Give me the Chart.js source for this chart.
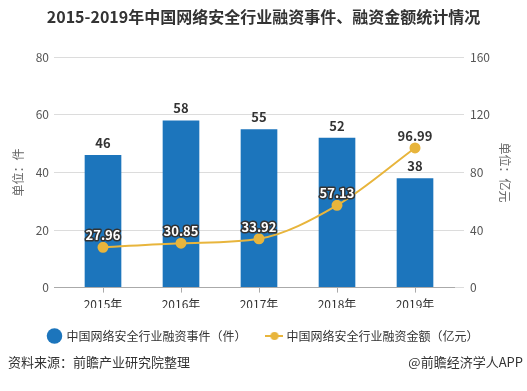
<!DOCTYPE html>
<html>
<head>
<meta charset="utf-8">
<script src="https://cdn.jsdelivr.net/npm/chart.js@4.4.0/dist/chart.umd.min.js"></script>
<style>
  html, body { margin: 0; padding: 0; background: #fff; }
  #wrap { width: 527px; height: 391px; }
</style>
</head>
<body>
<div id="wrap"><canvas id="chart" width="527" height="391"></canvas></div>
<script>
const years = ['2015年', '2016年', '2017年', '2018年', '2019年'];
const dealCounts = [46, 58, 55, 52, 38];
const dealAmounts = [27.96, 30.85, 33.92, 57.13, 96.99];
const leftTicks = [0, 20, 40, 60, 80];
const rightTicks = [0, 40, 80, 120, 160];

const FONT = "'Noto Sans CJK SC', 'Noto Sans', sans-serif";
const BLUE = '#1c75bc';
const GOLD = '#e8b53c';

// legend icon for the line series: short line with a dot
const lineIcon = document.createElement('canvas');
lineIcon.width = 18;
lineIcon.height = 10;
{
    const g = lineIcon.getContext('2d');
    g.strokeStyle = GOLD;
    g.lineWidth = 2;
    g.beginPath(); g.moveTo(0, 5); g.lineTo(18, 5); g.stroke();
    g.fillStyle = GOLD;
    g.beginPath(); g.arc(9, 5, 4, 0, Math.PI * 2); g.fill();
}

const valueLabels = {
    id: 'valueLabels',
    afterDatasetsDraw(chart) {
        const ctx = chart.ctx;
        const bars = chart.getDatasetMeta(0).data;
        ctx.save();
        ctx.textAlign = 'center';
        ctx.textBaseline = 'middle';
        ctx.font = 'bold 13px ' + FONT;
        bars.forEach((bar, i) => {
            ctx.fillStyle = '#333';
            ctx.fillText(dealCounts[i], bar.x, bar.y - 12);
        });
        chart.getDatasetMeta(1).data.forEach((pt, i) => {
            const txt = dealAmounts[i].toFixed(2);
            const y = pt.y - 12;
            if (y > bars[i].y) {
                ctx.lineWidth = 3;
                ctx.lineJoin = 'round';
                ctx.strokeStyle = '#333';
                ctx.strokeText(txt, pt.x, y);
                ctx.fillStyle = '#fff';
            } else {
                ctx.fillStyle = '#333';
            }
            ctx.fillText(txt, pt.x, y);
        });
        ctx.restore();
    }
};

const sourceNote = {
    id: 'sourceNote',
    afterDraw(chart) {
        const ctx = chart.ctx;
        ctx.save();
        ctx.font = '13px ' + FONT;
        ctx.fillStyle = '#333';
        ctx.textBaseline = 'middle';
        ctx.textAlign = 'left';
        ctx.fillText('资料来源：前瞻产业研究院整理', 8, 362);
        ctx.textAlign = 'right';
        ctx.fillText('@前瞻经济学人APP', 523, 362);
        ctx.restore();
    }
};

new Chart(document.getElementById('chart'), {
    data: {
        labels: years,
        datasets: [
            {
                type: 'bar',
                label: '中国网络安全行业融资事件（件）',
                data: dealCounts,
                backgroundColor: BLUE,
                yAxisID: 'y',
                barPercentage: 0.47,
                categoryPercentage: 1,
                order: 2
            },
            {
                type: 'line',
                label: '中国网络安全行业融资金额（亿元）',
                data: dealAmounts,
                borderColor: GOLD,
                backgroundColor: GOLD,
                borderWidth: 2,
                pointRadius: 4.5,
                pointBackgroundColor: GOLD,
                pointBorderColor: GOLD,
                cubicInterpolationMode: 'monotone',
                yAxisID: 'y1',
                order: 1
            }
        ]
    },
    options: {
        responsive: false,
        animation: false,
        layout: { padding: { left: 0, right: 0, top: 0, bottom: 39 } },
        plugins: {
            title: {
                display: true,
                text: '2015-2019年中国网络安全行业融资事件、融资金额统计情况',
                color: '#333',
                font: { family: FONT, size: 16, weight: 'bold' },
                padding: { top: 7, bottom: 31 }
            },
            legend: {
                position: 'bottom',
                labels: {
                    color: '#333',
                    font: { family: FONT, size: 12 },
                    usePointStyle: true,
                    boxHeight: 11,
                    padding: 22,
                    generateLabels(chart) {
                        return chart.data.datasets.map((ds, i) => ({
                            text: ds.label,
                            fillStyle: i === 0 ? BLUE : GOLD,
                            strokeStyle: i === 0 ? BLUE : GOLD,
                            lineWidth: 0,
                            pointStyle: i === 0 ? 'circle' : lineIcon,
                            datasetIndex: i,
                            hidden: false,
                            fontColor: '#333'
                        }));
                    }
                }
            },
            tooltip: { enabled: false }
        },
        scales: {
            x: {
                afterFit(scale) { scale.height -= 9; },
                grid: {
                    offset: false,
                    drawOnChartArea: false,
                    drawTicks: true,
                    tickLength: 5,
                    color: '#aaa'
                },
                border: { color: '#aaa' },
                ticks: { color: '#333', font: { family: FONT, size: 12 }, padding: 5 }
            },
            y: {
                position: 'left',
                min: 0,
                max: 80,
                afterBuildTicks(scale) { scale.ticks = leftTicks.map(v => ({ value: v })); },
                afterFit(scale) { scale.width = 64; },
                grid: {
                    color: ctx => ctx.tick && ctx.tick.value === 0 ? '#aaa' : '#dcdcdc',
                    tickLength: 10
                },
                border: { display: false },
                ticks: { color: '#555', font: { family: FONT, size: 12 }, padding: 5 },
                title: {
                    display: true,
                    text: '单位：件',
                    color: '#666',
                    font: { family: FONT, size: 12 },
                    padding: { top: 11, bottom: 0 }
                }
            },
            y1: {
                position: 'right',
                min: 0,
                max: 160,
                afterBuildTicks(scale) { scale.ticks = rightTicks.map(v => ({ value: v })); },
                afterFit(scale) { scale.width = 73; },
                grid: {
                    drawOnChartArea: false,
                    color: '#dcdcdc',
                    tickLength: 10
                },
                border: { display: false },
                ticks: { color: '#555', font: { family: FONT, size: 12 }, padding: 6 },
                title: {
                    display: true,
                    text: '单位：亿元',
                    color: '#666',
                    font: { family: FONT, size: 12 },
                    padding: { top: 15, bottom: 0 }
                }
            }
        }
    },
    plugins: [valueLabels, sourceNote]
});
</script>
</body>
</html>
